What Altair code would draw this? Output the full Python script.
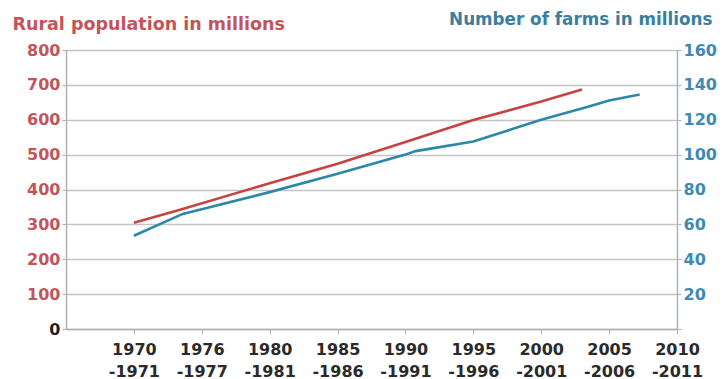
import json
import altair as alt
import pandas as pd

# ---- data ----
period_start = ["1970", "1976", "1980", "1985", "1990", "1995", "2000", "2005", "2010"]
period_end = ["-1971", "-1977", "-1981", "-1986", "-1991", "-1996", "-2001", "-2006", "-2011"]

# position along the period axis (0 = 1970-1971, one step per period)
rural_pos = [0, 0.68, 2.0, 3.0, 4.0, 5.0, 6.0, 6.6]
rural_val = [305, 342, 418, 474, 536, 599, 652, 687]

farm_pos = [0, 0.72, 2.0, 3.0, 4.0, 4.15, 5.0, 6.0, 6.65, 7.0, 7.45]
farm_val = [53.5, 66, 78.5, 89, 100, 102, 107.5, 120, 127, 131, 134.5]

left_ticks = [0, 100, 200, 300, 400, 500, 600, 700, 800]
right_ticks = [0, 20, 40, 60, 80, 100, 120, 140, 160]

RED_LINE = "#c8433f"
BLUE_LINE = "#2b88a6"
RED_TEXT = "#c2545a"
BLUE_TEXT = "#3d8bb2"
BLUE_TITLE = "#3a7ea0"
FONT = "DejaVu Sans"

rural = pd.DataFrame({"pos": rural_pos, "value": rural_val})
farms = pd.DataFrame({"pos": farm_pos, "value": farm_val})

label_expr = "[" + ",".join(json.dumps([a, b]) for a, b in zip(period_start, period_end)) + "][datum.value]"

x_enc = alt.X(
    "pos:Q",
    scale=alt.Scale(domain=[-1, 8], nice=False, zero=False),
    axis=alt.Axis(
        values=list(range(len(period_start))),
        labelExpr=label_expr,
        labelOverlap=False,
        labelFlush=False,
        title=None,
        grid=False,
        labelFont=FONT,
        labelFontSize=16,
        labelFontWeight="bold",
        labelColor="#2a2a2a",
        labelLineHeight=22,
        labelPadding=7,
        labelBaseline="top",
        tickSize=5,
        tickColor="#b0b0b0",
        domainColor="#b0b0b0",
        domainWidth=1.5,
    ),
)

left = alt.Chart(rural).mark_line(color=RED_LINE, strokeWidth=2.6).encode(
    x=x_enc,
    y=alt.Y(
        "value:Q",
        scale=alt.Scale(domain=[0, 800], nice=False),
        axis=alt.Axis(
            values=left_ticks,
            title="Rural population in millions",
            titleAngle=0,
            titleAlign="left",
            titleBaseline="middle",
            titleX=-54,
            titleY=-26,
            titleFont=FONT,
            titleFontSize=17.5,
            titleFontWeight="bold",
            titleColor=RED_TEXT,
            labelFont=FONT,
            labelFontSize=16,
            labelFontWeight="bold",
            labelColor={"condition": {"test": "datum.value == 0", "value": "#222222"}, "value": RED_TEXT},
            labelPadding=2,
            tickSize=4,
            tickColor="#b0b0b0",
            domainColor="#b0b0b0",
            domainWidth=1.5,
            grid=True,
            gridColor="#c4c4c4",
            gridWidth=1.5,
        ),
    ),
)

right = alt.Chart(farms).mark_line(color=BLUE_LINE, strokeWidth=2.6).encode(
    x=x_enc,
    y=alt.Y(
        "value:Q",
        scale=alt.Scale(domain=[0, 160], nice=False),
        axis=alt.Axis(
            orient="right",
            values=right_ticks,
            labelExpr="datum.value == 0 ? '' : datum.label",
            title="Number of farms in millions",
            titleAngle=0,
            titleAlign="right",
            titleBaseline="middle",
            titleX=35,
            titleY=-31,
            titleFont=FONT,
            titleFontSize=16.8,
            titleFontWeight="bold",
            titleColor=BLUE_TITLE,
            labelFont=FONT,
            labelFontSize=16,
            labelFontWeight="bold",
            labelColor=BLUE_TEXT,
            labelPadding=2,
            tickSize=4,
            tickColor="#a8b4bc",
            domainColor="#a8b4bc",
            domainWidth=1.5,
            grid=False,
        ),
    ),
)

chart = (
    alt.layer(right, left)
    .resolve_scale(y="independent")
    .properties(
        width=611,
        height=279,
        autosize="none",
        padding={"left": 66, "top": 50, "right": 46, "bottom": 50},
        background="white",
    )
    .configure_view(stroke=None)
)

chart.save("out.html", embed_options={"renderer": "svg", "actions": False})
